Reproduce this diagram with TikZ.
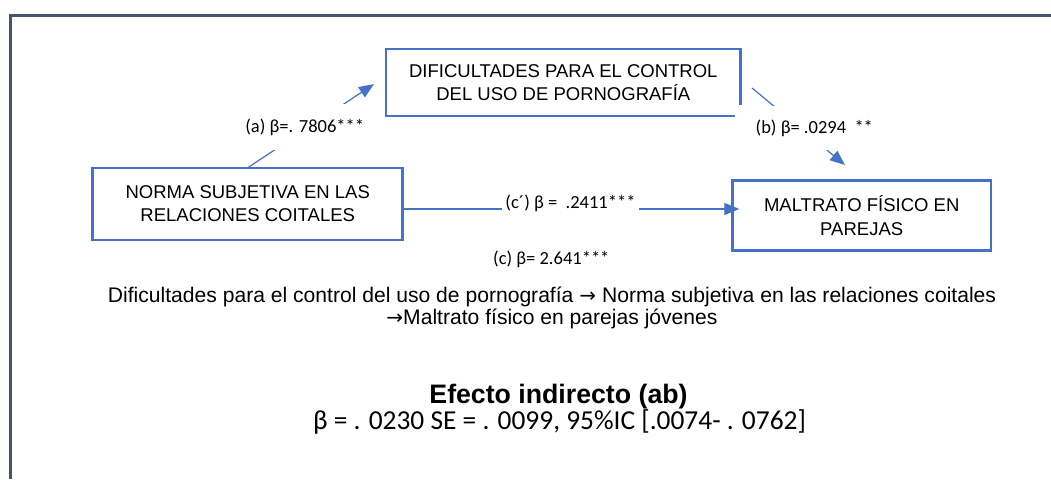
\documentclass[tikz,border=0pt]{standalone}
\usepackage{fontspec}
\setmainfont{Liberation Sans}
\newfontfamily\calfont{Carlito}
\newfontfamily\arrfont{DejaVu Sans}
\usetikzlibrary{arrows.meta}
\definecolor{boxblue}{HTML}{4472C4}
\definecolor{framecol}{HTML}{44546A}
\newcommand{\boxfont}{\fontsize{18.5}{23.4}\selectfont}
\newcommand{\labfont}{\calfont\fontsize{18.5}{22}\selectfont}
\newcommand{\midfont}{\fontsize{21.1}{22.5}\selectfont}
\newcommand{\rarr}{{\arrfont\fontsize{20}{22}\selectfont →}}
\begin{document}
\begin{tikzpicture}[x=1pt,y=-1pt,
  boxnode/.style={draw=boxblue, line width=2.5pt, align=center, inner sep=0pt, outer sep=0pt, font=\boxfont, text=black},
  conn/.style={draw=boxblue, line width=1.2pt, -{Triangle[length=15pt,width=12pt]}},
  lab/.style={font=\labfont, inner sep=0pt, outer sep=0pt, text=black},
  labw/.style={lab, fill=white}
]
\useasboundingbox (0,0) rectangle (1051,479);
\draw[framecol, line width=3pt] (10,479) -- (10,15) -- (1051,15);

% boxes
\node[boxnode, draw=none, minimum width=354.7pt, minimum height=67pt] (dif) at (563.3,82.5) {DIFICULTADES PARA EL CONTROL\\DEL USO DE PORNOGRAFÍA};
\draw[boxblue, line width=2.5pt] ([yshift=11pt]dif.south east) -- (dif.north east) -- (dif.north west) -- (dif.south west) -- ([xshift=-6pt]dif.south east);
\node[boxnode, minimum width=310pt, minimum height=72.3pt] (norma) at (247.7,203.9) {NORMA SUBJETIVA EN LAS\\RELACIONES COITALES};
\node[boxnode, minimum width=258.7pt, minimum height=70pt] (malt) at (861.7,215.7) {MALTRATO FÍSICO EN\\PAREJAS};

% connector end points
\coordinate (aend) at (374,84);
\coordinate (bstart) at (752,88);
\coordinate (bend) at (845,165);
\coordinate (cy) at (0,209);
\coordinate (ctip) at ([xshift=7pt]malt.west);

\draw[conn] (norma.north) -- (aend);
\draw[conn] (bstart) -- (bend);
\draw[conn] (norma.east |- cy) -- (ctip |- cy);

% labels
\node[labw, minimum width=116pt, minimum height=46pt] (la) at (304.7,127) {(a) β=. 7806***};
\node[labw, minimum width=117pt, minimum height=44pt] (lb) at (814.3,128) {(b) β= .0294\ \ **};
\node[labw, minimum width=137.6pt, minimum height=20pt] (lcp) at (570.5,203.3) {(c´) β =\ \ .2411***};
\node[lab] (lc) at (551.3,259) {(c) β= 2.641***};

% texts
\node[font=\midfont, align=center, inner sep=0pt, text=black] (path) at (552,308) {Dificultades para el control del uso de pornografía \rarr{} Norma subjetiva en las relaciones coitales\\\rarr{}Maltrato físico en parejas jóvenes};
\node[font=\bfseries\fontsize{26.7}{30}\selectfont, inner sep=0pt, anchor=base, text=black] (ef) at (558.5,403.3) {Efecto indirecto (ab)};
\node[font=\calfont\fontsize{27.4}{30}\selectfont, inner sep=0pt, anchor=base, text=black] (ind) at (559.5,429) {β = . 0230 SE = . 0099, 95\%IC [.0074- . 0762]};
\end{tikzpicture}
\end{document}
